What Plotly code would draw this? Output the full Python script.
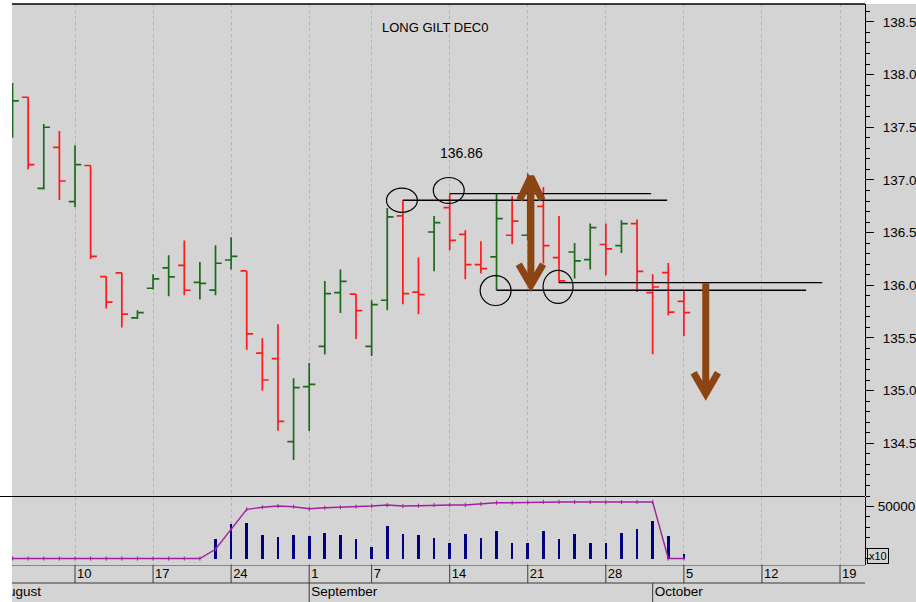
import plotly.graph_objects as go

# ---------------- data ----------------
trade_dates = ["Aug 4", "Aug 5", "Aug 6", "Aug 7", "Aug 10", "Aug 11", "Aug 12", "Aug 13", "Aug 14",
               "Aug 17", "Aug 18", "Aug 19", "Aug 20", "Aug 21", "Aug 24", "Aug 25", "Aug 26", "Aug 27",
               "Aug 28", "Sep 1", "Sep 2", "Sep 3", "Sep 4", "Sep 7", "Sep 8", "Sep 9", "Sep 10", "Sep 11",
               "Sep 14", "Sep 15", "Sep 16", "Sep 17", "Sep 18", "Sep 21", "Sep 22", "Sep 23", "Sep 24",
               "Sep 25", "Sep 28", "Sep 29", "Sep 30", "Oct 1", "Oct 2", "Oct 5"]
day_index = list(range(len(trade_dates)))

opens = [137.45, 137.785, 136.92, 137.31, 136.795, 137.137, 136.083, 136.117, 135.69, 135.972,
         136.165, 136.19, 136.028, 135.955, 136.24, 136.136, 135.357, 135.304, 134.516, 135.038,
         135.421, 135.931, 135.917, 135.421, 135.858, 136.658, 135.936, 136.506, 136.738, 136.484,
         136.197, 136.269, 136.475, 136.475, 136.75, 136.263, 136.316, 136.244, 136.387, 136.377,
         136.586, 135.931, 136.12, 135.848]
highs = [137.92, 137.785, 137.53, 137.465, 137.33, 137.137, 136.083, 136.117, 135.763, 136.105,
         136.285, 136.424, 136.221, 136.38, 136.456, 136.136, 135.497, 135.63, 135.117, 135.262,
         136.041, 136.149, 135.917, 135.858, 136.734, 136.807, 136.263, 136.658, 136.87, 136.522,
         136.418, 136.87, 136.845, 137.06, 136.934, 136.658, 136.402, 136.586, 136.586, 136.617,
         136.624, 136.105, 136.212, 135.953]
lows = [137.40, 137.10, 136.91, 136.81, 136.74, 136.25, 135.78, 135.60, 135.68, 135.959,
        135.896, 135.905, 135.864, 135.905, 136.149, 135.389, 135.0, 134.62, 134.341, 134.616,
        135.342, 135.737, 135.49, 135.329, 135.763, 135.82, 135.725, 136.133, 136.332, 136.057,
        136.111, 135.953, 136.39, 136.427, 136.206, 136.025, 136.064, 136.149, 136.095, 136.307,
        135.936, 135.345, 135.715, 135.519]
closes = [137.75, 137.146, 137.50, 136.99, 137.146, 136.275, 135.84, 135.727, 135.74, 136.06,
          136.079, 135.953, 136.019, 136.209, 136.275, 135.538, 135.101, 134.708, 135.029, 135.06,
          135.921, 136.038, 135.76, 135.817, 136.649, 135.921, 135.912, 136.595, 136.427, 136.197,
          136.159, 136.633, 136.61, 136.80, 136.377, 136.041, 136.231, 136.548, 136.345, 136.586,
          136.133, 135.984, 135.746, 135.74]

volume = [0, 0, 0, 0, 0, 0, 0, 0, 0, 0, 0, 0, 0,
          18460, 33170, 34420, 22600, 20380, 22600, 21630, 24800, 22600, 18460, 10770, 31250,
          23850, 22600, 19420, 15190, 23850, 19420, 26730, 15190, 15190, 26730, 18460, 23850,
          15190, 15190, 24800, 28080, 36340, 21630, 4330]
open_interest = [0, 0, 0, 0, 0, 0, 0, 0, 0, 0, 0, 0, 0,
                 8850, 28080, 47310, 49230, 50480, 49810, 47880, 48850, 49230, 49810, 50480, 51440,
                 50480, 50770, 51440, 51440, 51440, 52400, 53650, 53650, 54040, 54330, 54330, 54330,
                 54330, 54330, 54330, 54330, 54330, 0, 0]

tick_index = [4, 9, 14, 19, 23, 28, 33, 38, 43, 48, 53]
tick_labels = ["10", "17", "24", "1", "7", "14", "21", "28", "5", "12", "19"]
month_index = [-1, 19, 41]
month_labels = ["August", "September", "October"]
price_ticks = [134.5, 135.0, 135.5, 136.0, 136.5, 137.0, 137.5, 138.0, 138.5]
vol_ticks = [50000]

# analyst drawings
circle_marks = [(24.94, 136.807, 0.99, 0.115), (27.94, 136.90, 0.99, 0.123),
                (30.94, 135.95, 0.99, 0.142), (34.94, 135.985, 0.96, 0.157)]
level_lines = [(25, 41.93, 136.807), (28, 40.9, 136.87), (35, 51.86, 136.025), (31, 50.83, 135.953)]
arrows = [dict(x=33.2, top=137.05, bottom=135.98, up=True, down=True),
          dict(x=44.4, top=136.02, bottom=134.95, up=False, down=True)]

# ---------------- styling ----------------
BG = "#d4d4d4"
GREEN = "#1b6b1b"
RED = "#ff1a1a"
FONT = "Liberation Sans, Arial, sans-serif"
XR = [-0.035, 54.6]

up_flags = [True] + [closes[i] >= closes[i - 1] for i in range(1, len(closes))]

fig = go.Figure()

for flag, col in ((True, GREEN), (False, RED)):
    idx = [i for i in day_index if up_flags[i] == flag]
    fig.add_trace(go.Ohlc(
        x=idx, open=[opens[i] for i in idx], high=[highs[i] for i in idx],
        low=[lows[i] for i in idx], close=[closes[i] for i in idx],
        increasing=dict(line=dict(color=col, width=1.7)),
        decreasing=dict(line=dict(color=col, width=1.7)),
        tickwidth=0.4, xaxis="x", yaxis="y", hoverinfo="skip"))

# level lines
for x0, x1, p in level_lines:
    fig.add_trace(go.Scatter(x=[x0, x1], y=[p, p], mode="lines",
                             line=dict(color="black", width=1.3), xaxis="x", yaxis="y", hoverinfo="skip"))

# circles
for cx, cy, rx, ry in circle_marks:
    fig.add_shape(type="circle", xref="x", yref="y", x0=cx - rx, x1=cx + rx, y0=cy - ry, y1=cy + ry,
                  line=dict(color="black", width=1.2))

# arrows
BROWN = "#8b4513"
for a in arrows:
    fig.add_trace(go.Scatter(x=[a["x"], a["x"]], y=[a["bottom"] + (0.03 if a["down"] else 0), a["top"] - (0.03 if a["up"] else 0)],
                             mode="lines", line=dict(color=BROWN, width=7), xaxis="x", yaxis="y", hoverinfo="skip"))
    if a["up"]:
        fig.add_trace(go.Scatter(x=[a["x"] - 0.72, a["x"], a["x"] + 0.72],
                                 y=[a["top"] - 0.24, a["top"] - 0.02, a["top"] - 0.24],
                                 mode="lines", line=dict(color=BROWN, width=7), xaxis="x", yaxis="y", hoverinfo="skip"))
    if a["down"]:
        fig.add_trace(go.Scatter(x=[a["x"] - 0.78, a["x"], a["x"] + 0.78],
                                 y=[a["bottom"] + 0.22, a["bottom"] + 0.02, a["bottom"] + 0.22],
                                 mode="lines", line=dict(color=BROWN, width=7), xaxis="x", yaxis="y", hoverinfo="skip"))

# volume + open interest
fig.add_trace(go.Bar(x=day_index, y=volume, width=0.17, marker=dict(color="#000080", line=dict(width=0)),
                     xaxis="x2", yaxis="y2", hoverinfo="skip"))
fig.add_trace(go.Scatter(x=day_index, y=open_interest, mode="lines+markers",
                         line=dict(color="#a020a0", width=1.4),
                         marker=dict(symbol="line-ns-open", size=3, line=dict(color="#a020a0", width=1)),
                         xaxis="x2", yaxis="y2", hoverinfo="skip"))

# date rows
PAD = 0.13
fig.add_trace(go.Scatter(x=[t + PAD for t in tick_index], y=[27.5] * len(tick_index), text=tick_labels,
                         mode="text", textposition="middle right", cliponaxis=True,
                         textfont=dict(family=FONT, size=13, color="black"),
                         xaxis="x3", yaxis="y3", hoverinfo="skip"))
fig.add_trace(go.Scatter(x=[m + PAD for m in month_index], y=[9.5] * len(month_index), text=month_labels,
                         mode="text", textposition="middle right", cliponaxis=True,
                         textfont=dict(family=FONT, size=13.5, color="black"),
                         xaxis="x3", yaxis="y3", hoverinfo="skip"))
LINEC = "#3a3a3a"
for t in tick_index:
    fig.add_shape(type="line", xref="x3", yref="y3", x0=t, x1=t, y0=19, y1=37, line=dict(color=LINEC, width=1))
for m in month_index[1:]:
    fig.add_shape(type="line", xref="x3", yref="y3", x0=m, x1=m, y0=0, y1=19, line=dict(color=LINEC, width=1))
for yy in (19, 37):
    fig.add_shape(type="line", xref="paper", yref="y3", x0=0, x1=1, y0=yy, y1=yy, line=dict(color=LINEC, width=1))

# frame pieces
LEFT = -12 / 853
fig.add_shape(type="rect", xref="paper", yref="paper", x0=LEFT, x1=0, y0=0, y1=1 + 4 / 598,
              fillcolor="white", line=dict(width=0), layer="above")
fig.add_shape(type="rect", xref="paper", yref="paper", x0=LEFT, x1=1 + 51 / 853, y0=1, y1=1 + 4 / 598,
              fillcolor="white", line=dict(width=0), layer="above")
fig.add_shape(type="line", xref="paper", yref="paper", x0=0, x1=1, y0=1, y1=1, line=dict(color="black", width=1.5))
fig.add_shape(type="line", xref="paper", yref="paper", x0=LEFT, x1=1, y0=1 - 492.5 / 598, y1=1 - 492.5 / 598,
              line=dict(color="black", width=1.2))

fig.add_annotation(text="LONG GILT DEC0", xref="paper", yref="paper", x=0.496, y=1 - 14 / 598,
                   showarrow=False, font=dict(family=FONT, size=13, color="black"))
fig.add_annotation(text="136.86", xref="x", yref="y", x=28.73, y=137.254, showarrow=False,
                   font=dict(family=FONT, size=14, color="black"))
fig.add_annotation(text="x10", xref="paper", yref="paper", x=1 + 2 / 853, y=1 - 552 / 598, xanchor="left",
                   yanchor="middle", showarrow=False, font=dict(family=FONT, size=11, color="black"),
                   bordercolor="black", borderwidth=1, borderpad=1)

grid = dict(showgrid=True, gridcolor="#b3b3b3", griddash="dot", gridwidth=1)
xcommon = dict(range=XR, tickmode="array", tickvals=tick_index, showticklabels=False, ticks="",
               zeroline=False, showline=False, fixedrange=True)
ycommon = dict(side="right", showline=True, linecolor="black", linewidth=1, ticks="outside", ticklen=8,
               tickcolor="black", showgrid=False, zeroline=False,
               tickfont=dict(family=FONT, size=13.5, color="black"))

fig.update_layout(
    width=916, height=602, margin=dict(l=12, r=51, t=4, b=0),
    paper_bgcolor=BG, plot_bgcolor=BG, showlegend=False, bargap=0,
    xaxis=dict(domain=[0, 1], anchor="y", rangeslider=dict(visible=False), **xcommon, **grid),
    xaxis2=dict(domain=[0, 1], anchor="y2", matches="x", **xcommon, **grid),
    xaxis3=dict(domain=[0, 1], anchor="y3", matches="x", range=XR, visible=False),
    yaxis=dict(domain=[1 - 492 / 598, 1], anchor="x", range=[134.0, 138.67], tickmode="array",
               tickvals=price_ticks, ticktext=["%.1f" % v for v in price_ticks], ticklabelstandoff=6,
               minor=dict(tickmode="linear", tick0=134.0, dtick=0.1, ticks="outside", ticklen=4,
                          tickcolor="black", showgrid=False), **ycommon),
    yaxis2=dict(domain=[1 - 561 / 598, 1 - 493 / 598], anchor="x2", range=[-6250, 59135], tickmode="array",
                tickvals=vol_ticks, ticktext=["50000"], ticklabelstandoff=1,
                minor=dict(tickmode="linear", tick0=0, dtick=10000, ticks="outside", ticklen=4,
                           tickcolor="black", showgrid=False), **ycommon),
    yaxis3=dict(domain=[0, 1 - 561 / 598], anchor="x3", range=[0, 37], visible=False, fixedrange=True),
)

fig.write_html("out.html", config={"displayModeBar": False},
               post_script="document.body.style.margin='0';")
